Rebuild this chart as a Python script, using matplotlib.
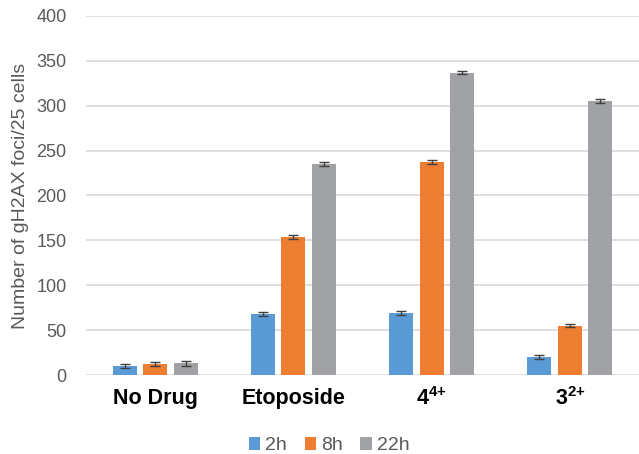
import matplotlib
matplotlib.use("Agg")
import matplotlib.pyplot as plt
import numpy as np

categories = ["No Drug", "Etoposide", r"$\mathbf{4}^{\mathbf{4{+}}}$", r"$\mathbf{3}^{\mathbf{2{+}}}$"]
series = ["2h", "8h", "22h"]
values = {
    "2h": [10, 68, 69, 20],
    "8h": [12, 154, 237, 55],
    "22h": [13, 235, 337, 305],
}
errors = {
    "2h": [2.5, 2, 2, 2],
    "8h": [2.5, 2, 2, 2],
    "22h": [2.5, 2, 2, 2],
}
colors = {"2h": "#5B9BD5", "8h": "#ED7D31", "22h": "#A0A2A5"}

plt.rcParams['font.family'] = ['Liberation Sans', 'DejaVu Sans']
plt.rcParams['mathtext.fontset'] = 'custom'
plt.rcParams['mathtext.rm'] = 'Liberation Sans'
plt.rcParams['mathtext.bf'] = 'Liberation Sans:bold'

fig = plt.figure(figsize=(6.39, 4.54), dpi=100)
ax = fig.add_axes([0.1346, 0.174, 0.8654, 0.7908])

x = np.arange(len(categories))
width = 0.174
step = 0.22
for i, s in enumerate(series):
    ax.bar(x + (i - 1) * step, values[s], width, color=colors[s], label=s, zorder=3,
           yerr=errors[s], error_kw=dict(ecolor="#404040", elinewidth=1, capsize=3.5, capthick=1, zorder=4))

ax.set_xlim(-0.5, len(categories) - 0.5)
ax.set_ylim(0, 400)
ax.set_yticks(np.arange(0, 401, 50))
ax.yaxis.grid(True, color="#D9D9D9", linewidth=1.2, zorder=0)
ax.set_axisbelow(True)
for sp in ax.spines.values():
    sp.set_visible(False)
ax.tick_params(axis='both', length=0)
ax.tick_params(axis='y', labelsize=13, labelcolor="#595959", pad=14)
ax.set_xticks(x)
ax.set_xticklabels(categories, fontsize=15.5, fontweight='bold', color="black")
ax.tick_params(axis='x', pad=9)
ax.set_ylabel("Number of gH2AX foci/25 cells", fontsize=14, color="#595959", labelpad=5)

leg = fig.legend(loc='center', bbox_to_anchor=(0.515, 0.018), ncol=3, frameon=False,
                 fontsize=14, handlelength=0.6, handleheight=0.6, handletextpad=0.25,
                 columnspacing=0.9, labelcolor="#595959")

fig.savefig("out.png", dpi=100)
